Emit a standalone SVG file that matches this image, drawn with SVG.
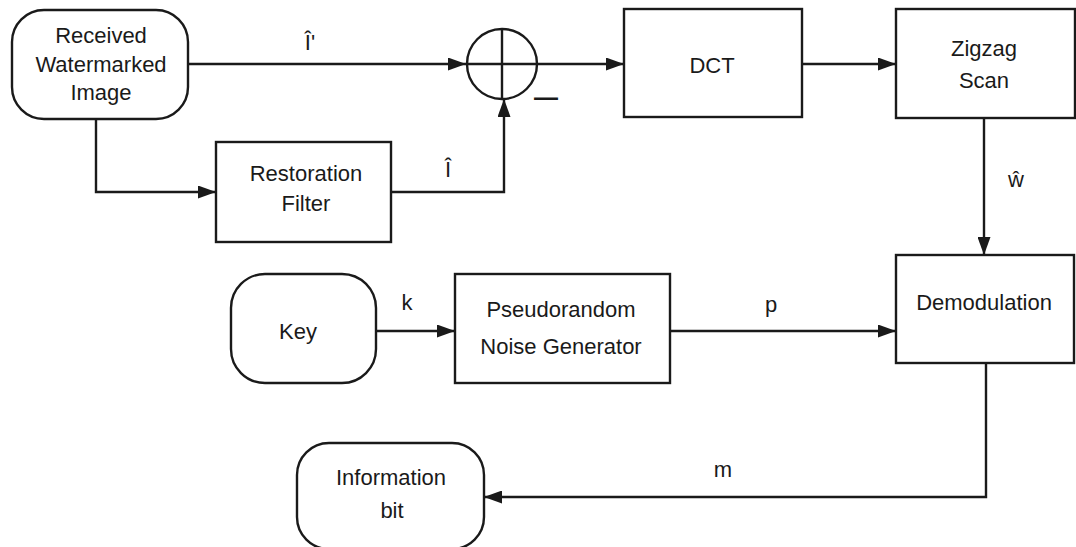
<svg xmlns="http://www.w3.org/2000/svg" width="1076" height="547" viewBox="0 0 1076 547">
<style>
  .box { fill: #ffffff; stroke: #1a1a1a; stroke-width: 2.4; }
  .wire { fill: none; stroke: #1a1a1a; stroke-width: 2.4; }
  .arr { marker-end: url(#ah); }
  text { font-family: "Liberation Sans", Arial, sans-serif; font-size: 22px; fill: #1a1a1a; text-anchor: middle; }
</style>
<defs>
  <marker id="ah" markerUnits="userSpaceOnUse" markerWidth="19" markerHeight="13" refX="18" refY="6.5" orient="auto">
    <path d="M0,0 L18,6.5 L0,13 z" fill="#1a1a1a"/>
  </marker>
</defs>
<rect width="1076" height="547" fill="#ffffff"/>

<g id="connectors">
  <path class="wire arr" d="M188,64 H466"/>
  <path class="wire arr" d="M96,119 V192 H216"/>
  <path class="wire arr" d="M391,192 H504 V99"/>
  <path class="wire arr" d="M538,64 H624"/>
  <path class="wire arr" d="M802,64 H896"/>
  <path class="wire arr" d="M984,118 V255"/>
  <path class="wire arr" d="M376,331 H455"/>
  <path class="wire arr" d="M670,331 H896"/>
  <path class="wire arr" d="M986,363 V497 H484"/>
  <text x="310" y="50">Î'</text>
  <text x="448" y="177">Î</text>
  <text x="1016" y="187">ŵ</text>
  <text x="407" y="310">k</text>
  <text x="771" y="312">p</text>
  <text x="723" y="477">m</text>
</g>

<g id="received">
  <rect class="box" x="12" y="10" width="176" height="109" rx="32" ry="32"/>
  <text x="101" y="43">Received</text>
  <text x="101" y="72">Watermarked</text>
  <text x="101" y="100">Image</text>
</g>

<g id="restoration">
  <rect class="box" x="216" y="142" width="175" height="100"/>
  <text x="306" y="181">Restoration</text>
  <text x="306" y="211">Filter</text>
</g>

<g id="adder">
  <circle cx="502" cy="64" r="35" fill="none" stroke="#1a1a1a" stroke-width="2.4"/>
  <path class="wire" d="M467,64 H537 M502,29 V99"/>
  <text x="546" y="105" style="font-size:24px;font-weight:bold">—</text>
</g>

<g id="dct">
  <rect class="box" x="624" y="9" width="178" height="108"/>
  <text x="712" y="73">DCT</text>
</g>

<g id="zigzag">
  <rect class="box" x="896" y="9" width="179" height="109"/>
  <text x="984" y="56">Zigzag</text>
  <text x="984" y="88">Scan</text>
</g>

<g id="demodulation">
  <rect class="box" x="896" y="255" width="178" height="108"/>
  <text x="984" y="310">Demodulation</text>
</g>

<g id="key">
  <rect class="box" x="231" y="274" width="145" height="109" rx="34" ry="34"/>
  <text x="298" y="339">Key</text>
</g>

<g id="pseudorandom">
  <rect class="box" x="455" y="274" width="215" height="109"/>
  <text x="561" y="317">Pseudorandom</text>
  <text x="561" y="354">Noise Generator</text>
</g>

<g id="information">
  <rect class="box" x="297" y="443" width="187" height="106" rx="32" ry="32"/>
  <text x="391" y="485">Information</text>
  <text x="392" y="518">bit</text>
</g>
</svg>
